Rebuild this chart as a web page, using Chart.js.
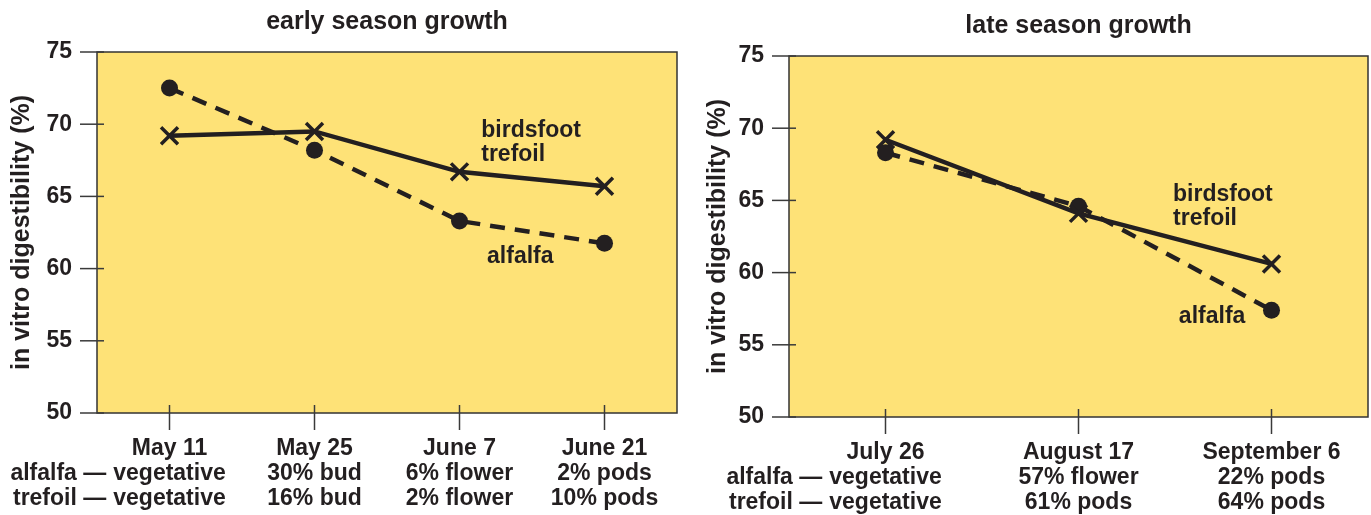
<!DOCTYPE html>
<html>
<head>
<meta charset="utf-8">
<script src="https://cdn.jsdelivr.net/npm/chart.js@4/dist/chart.umd.min.js"></script>
<style>
  html, body { margin: 0; padding: 0; background: #fff; }
  #wrap { position: relative; width: 1371px; height: 515px; }
  .panel { position: absolute; top: 0; height: 515px; }
</style>
</head>
<body>
<div id="wrap">
  <div class="panel" style="left:0;width:685px"><canvas id="earlyChart" width="685" height="515"></canvas></div>
  <div class="panel" style="left:685px;width:686px"><canvas id="lateChart" width="686" height="515"></canvas></div>
</div>
<script>
// early season data
const earlyLabels = [
  ["May 11", "vegetative", "vegetative"],
  ["May 25", "30% bud", "16% bud"],
  ["June 7", "6% flower", "2% flower"],
  ["June 21", "2% pods", "10% pods"]
];
const earlyAlfalfa = [72.5, 68.2, 63.3, 61.75];
const earlyTrefoil = [69.2, 69.5, 66.7, 65.7];

// late season data
const lateLabels = [
  ["July 26", "vegetative", "vegetative"],
  ["August 17", "57% flower", "61% pods"],
  ["September 6", "22% pods", "64% pods"]
];
const lateAlfalfa = [68.3, 64.6, 57.4];
const lateTrefoil = [69.2, 64.1, 60.6];

const yTicks = [50, 55, 60, 65, 70, 75];
const rowNames = ["alfalfa —", "trefoil —"];

const INK = "#231f20";
const FONT = "'Liberation Sans', Arial, sans-serif";
const LINE_H = 25;
const X_PAD = 6;

// yellow plot area, box, tick marks, titles and labels
const decor = {
  id: "decor",
  beforeDatasetsDraw(chart, args, opts) {
    const a = chart.chartArea;
    const ctx = chart.ctx;
    ctx.save();
    ctx.fillStyle = "#fee277";
    ctx.fillRect(a.left, a.top, a.right - a.left, a.bottom - a.top);
    ctx.strokeStyle = "#333";
    ctx.lineWidth = 1.5;
    ctx.strokeRect(a.left, a.top, a.right - a.left, a.bottom - a.top);

    // tick marks crossing the axes
    ctx.strokeStyle = "#3a3a3a";
    ctx.lineWidth = 1.5;
    const x = chart.scales.x, y = chart.scales.y;
    x.ticks.forEach((t, i) => {
      const px = x.getPixelForTick(i);
      ctx.beginPath();
      ctx.moveTo(px, a.bottom - 8);
      ctx.lineTo(px, a.bottom + 17);
      ctx.stroke();
    });
    y.ticks.forEach((t, i) => {
      const py = y.getPixelForTick(i);
      ctx.beginPath();
      ctx.moveTo(a.left - 17, py);
      ctx.lineTo(a.left + 7, py);
      ctx.stroke();
    });
    ctx.restore();
  },
  afterDraw(chart, args, opts) {
    const a = chart.chartArea;
    const ctx = chart.ctx;
    const x = chart.scales.x, y = chart.scales.y;
    ctx.save();
    ctx.fillStyle = INK;

    // title
    ctx.font = "bold 25px " + FONT;
    ctx.textAlign = "center";
    ctx.textBaseline = "alphabetic";
    ctx.fillText(opts.title, (a.left + a.right) / 2, opts.titleY);

    // series labels
    ctx.font = "bold 23px " + FONT;
    ctx.textAlign = "left";
    opts.notes.forEach(n => {
      ctx.fillText(n.text, x.getPixelForValue(n.x), y.getPixelForValue(n.y));
    });

    // row names left of the first column
    ctx.textAlign = "right";
    ctx.textBaseline = "middle";
    const firstPx = x.getPixelForTick(0);
    const half = ctx.measureText("vegetative").width / 2;
    rowNames.forEach((r, i) => {
      const py = x.top + 17 + X_PAD + LINE_H * (i + 1.5);
      ctx.fillText(r, firstPx - half - 7, py);
    });
    ctx.restore();
  }
};

function makeChart(id, labels, alfalfa, trefoil, cfg) {
  const ctx = document.getElementById(id).getContext("2d");
  return new Chart(ctx, {
    type: "line",
    data: {
      labels: labels,
      datasets: [
        {
          label: "birdsfoot trefoil",
          data: trefoil,
          borderColor: INK,
          borderWidth: 4.5,
          pointStyle: "crossRot",
          pointRadius: 12,
          pointBorderWidth: 3.5,
          pointBorderColor: INK,
          pointBackgroundColor: INK,
          tension: 0
        },
        {
          label: "alfalfa",
          data: alfalfa,
          borderColor: INK,
          borderWidth: 4.5,
          borderDash: [15, 10],
          pointStyle: "circle",
          pointRadius: 8.5,
          pointBorderWidth: 0,
          pointBackgroundColor: INK,
          tension: 0
        }
      ]
    },
    options: {
      responsive: false,
      animation: false,
      devicePixelRatio: 1,
      layout: {
        autoPadding: false,
        padding: { top: cfg.top, right: cfg.right, bottom: 0, left: 0 }
      },
      plugins: {
        legend: { display: false },
        tooltip: { enabled: false },
        decor: { title: cfg.title, titleY: cfg.titleY, notes: cfg.notes }
      },
      scales: {
        x: {
          type: "category",
          offset: true,
          afterFit: s => { s.height = cfg.xHeight; s.paddingLeft = 0; s.paddingRight = 0; },
          grid: { offset: false, drawOnChartArea: false, drawTicks: true, tickLength: 17, color: "transparent" },
          border: { display: false },
          ticks: {
            color: INK,
            padding: X_PAD,
            maxRotation: 0,
            autoSkip: false,
            font: { family: FONT, size: 23, weight: "bold", lineHeight: LINE_H + "px" }
          }
        },
        y: {
          min: 50,
          max: 75,
          afterFit: s => { s.width = cfg.yWidth; },
          afterBuildTicks: s => { s.ticks = yTicks.map(v => ({ value: v })); },
          grid: { drawOnChartArea: false, drawTicks: true, tickLength: 17, color: "transparent" },
          border: { display: false },
          ticks: {
            color: INK,
            padding: 8,
            font: { family: FONT, size: 23, weight: "bold" }
          },
          title: {
            display: true,
            text: "in vitro digestibility (%)",
            color: INK,
            padding: { top: cfg.yTitlePad, bottom: 0 },
            font: { family: FONT, size: 25, weight: "bold", lineHeight: 1.2 }
          }
        }
      }
    },
    plugins: [decor]
  });
}

makeChart("earlyChart", earlyLabels, earlyAlfalfa, earlyTrefoil, {
  top: 52, right: 8, xHeight: 102, yWidth: 97, yTitlePad: 7,
  title: "early season growth", titleY: 29,
  notes: [
    { text: "birdsfoot", x: 2.15, y: 69.1 },
    { text: "trefoil", x: 2.15, y: 67.45 },
    { text: "alfalfa", x: 2.19, y: 60.4 }
  ]
});

makeChart("lateChart", lateLabels, lateAlfalfa, lateTrefoil, {
  top: 56, right: 3, xHeight: 98, yWidth: 104, yTitlePad: 18,
  title: "late season growth", titleY: 33,
  notes: [
    { text: "birdsfoot", x: 1.49, y: 64.95 },
    { text: "trefoil", x: 1.49, y: 63.3 },
    { text: "alfalfa", x: 1.52, y: 56.5 }
  ]
});
</script>
</body>
</html>
